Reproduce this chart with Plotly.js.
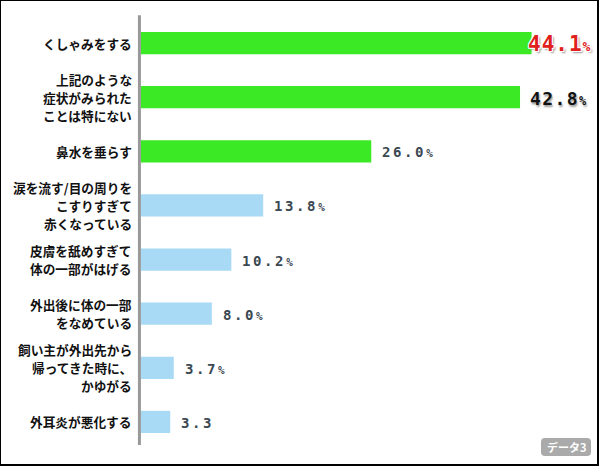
<!DOCTYPE html>
<html>
<head>
<meta charset="utf-8">
<script src="https://cdn.plot.ly/plotly-3.0.1.min.js"></script>
<style>
  html, body { margin: 0; padding: 0; background: #fff; }
  #wrap { position: relative; width: 600px; height: 466px; }
  #chart { position: absolute; left: 0; top: 0; width: 600px; height: 466px; }
  #frame { position: absolute; left: 0; top: 0; width: 599px; height: 466px; box-sizing: border-box;
           border-top: 1px solid #000; border-left: 1px solid #000; border-right: 2px solid #000; border-bottom: 2px solid #000; pointer-events: none; }
</style>
</head>
<body>
<div id="wrap">
  <div id="chart"></div>
  <div id="frame"></div>
</div>
<script>
// ---- data ----
const categories = [
  'くしゃみをする',
  '上記のような<br>症状がみられた<br>ことは特にない',
  '鼻水を垂らす',
  '涙を流す/目の周りを<br>こすりすぎて<br>赤くなっている',
  '皮膚を舐めすぎて<br>体の一部がはげる',
  '外出後に体の一部<br>をなめている',
  '飼い主が外出先から<br>帰ってきた時に、<br>かゆがる',
  '外耳炎が悪化する'
];
const values = [44.1, 42.8, 26.0, 13.8, 10.2, 8.0, 3.7, 3.3];
const labelSuffix = ['%', '%', '%', '%', '%', '%', '%', ''];
const barColors = ['#3bea25', '#3bea25', '#3bea25', '#a8daf5', '#a8daf5', '#a8daf5', '#a8daf5', '#a8daf5'];
const badgeText = 'データ3';

// ---- label styles (by rank) ----
function labelStyle(i) {
  if (i === 0) return { size: 21, color: '#e0201c', ls: 1.0, pct: 13, xshift: -6,
    shadow: '-1px -1px 0 #fff, 1px -1px 0 #fff, -1px 1px 0 #fff, 1px 1px 0 #fff, 2px 2px 2px #999' };
  if (i === 1) return { size: 18, color: '#111111', ls: 1.4, pct: 12, xshift: 8,
    shadow: '1px 2px 2px #999' };
  return { size: 14, color: '#3a4852', ls: 2.6, pct: 11, xshift: 9, shadow: 'none' };
}

const annotations = [];

// value labels
values.forEach(function (v, i) {
  const s = labelStyle(i);
  let txt = '<span style="letter-spacing:' + s.ls + 'px">' + v.toFixed(1) + '</span>';
  if (labelSuffix[i]) txt += '<span style="font-size:' + s.pct + 'px">' + labelSuffix[i] + '</span>';
  annotations.push({
    x: v, y: i, xref: 'x', yref: 'y',
    text: txt, showarrow: false, xanchor: 'left', yanchor: 'middle',
    xshift: s.xshift, yshift: -1,
    font: { family: 'DejaVu Sans Mono, monospace', size: s.size, color: s.color, weight: 'bold', shadow: s.shadow }
  });
});

// category labels, one annotation per line (18px line pitch as in the reference)
const LINE = 18;
categories.forEach(function (c, i) {
  const lines = c.split('<br>');
  lines.forEach(function (ln, j) {
    annotations.push({
      x: 0, y: i, xref: 'paper', yref: 'y',
      text: ln, showarrow: false, xanchor: 'right', yanchor: 'middle',
      xshift: -7, yshift: ((lines.length - 1) / 2 - j) * LINE,
      font: { family: 'Noto Sans CJK JP, sans-serif', size: 12.7, color: '#111111', weight: 'bold' }
    });
  });
});

// badge text
annotations.push({
  x: 1, y: 0, xref: 'paper', yref: 'paper', xanchor: 'center', yanchor: 'middle',
  xshift: -23, yshift: 2, showarrow: false,
  text: badgeText,
  font: { family: 'Noto Sans CJK JP, sans-serif', size: 11, color: '#ffffff', weight: 'bold' }
});

const trace = {
  type: 'bar', orientation: 'h',
  x: values, y: categories.map(function (_, i) { return i; }),
  marker: { color: barColors, line: { width: 0 } },
  hoverinfo: 'skip'
};

const layout = {
  width: 600, height: 466,
  margin: { l: 141, r: 10, t: 16, b: 17 },
  paper_bgcolor: '#ffffff', plot_bgcolor: '#ffffff',
  showlegend: false,
  bargap: 0.59,
  xaxis: { range: [0, 50.7], visible: false, fixedrange: true },
  yaxis: {
    range: [7.5, -0.5], visible: false,
    showgrid: false, zeroline: false, showline: false, ticks: '', showticklabels: false,
    fixedrange: true
  },
  shapes: [{
    type: 'line', xref: 'paper', yref: 'paper',
    x0: -0.0035, x1: -0.0035, y0: 0.009, y1: 1.002,
    line: { color: '#999999', width: 3 }
  }, {
    type: 'path', xref: 'paper', yref: 'paper',
    xsizemode: 'pixel', ysizemode: 'pixel', xanchor: 1, yanchor: 0,
    path: 'M -45,-7 L -3,-7 Q 1,-7 1,-3 L 1,7 Q 1,11 -3,11 L -45,11 Q -49,11 -49,7 L -49,-3 Q -49,-7 -45,-7 Z',
    fillcolor: '#aaaaaa', line: { width: 0 }, layer: 'above'
  }],
  annotations: annotations
};

Plotly.newPlot('chart', [trace], layout, { displayModeBar: false, staticPlot: true });
</script>
</body>
</html>
